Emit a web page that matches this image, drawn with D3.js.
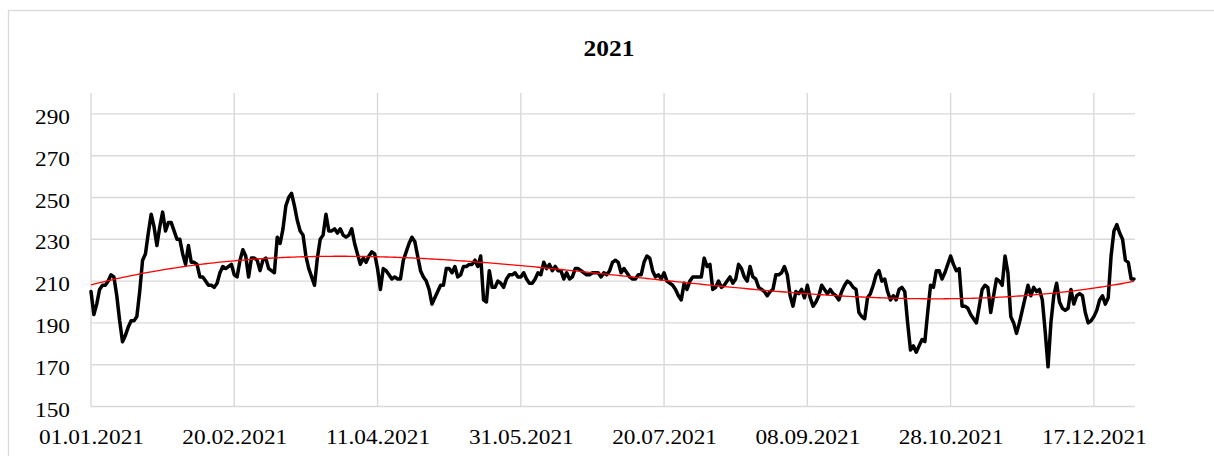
<!DOCTYPE html>
<html>
<head>
<meta charset="utf-8">
<script src="https://cdn.jsdelivr.net/npm/d3@7"></script>
<style>
	body { margin: 0; background: #fff; }
	text { font-family: "Liberation Serif", "Times New Roman", serif; fill: #000; }
</style>
</head>
<body>
<div id="draw"></div>
<script>
// daily values, 01.01.2021 .. 31.12.2021
var values = [
	205,194,199,206,208,208,210,213,212,203,
	191,181,184,188,191,191,193,205,220,223,
	233,242,236,227,236,243,234,238,238,234,
	230,230,223,218,227,219,219,218,212,212,
	210,208,208,207,209,214,217,216,217,218,
	213,212,220,225,222,212,221,221,220,215,
	220,221,216,215,214,231,228,235,246,250,
	252,246,239,234,232,222,216,212,208,221,
	230,232,242,234,234,235,233,235,232,231,
	232,235,228,223,218,221,219,222,224,223,
	216,206,216,215,213,211,212,211,211,220,
	224,228,231,229,222,215,212,210,206,199,
	202,205,208,208,216,216,214,217,212,213,
	217,217,218,218,220,217,222,201,200,215,
	207,207,210,209,207,211,213,213,214,212,
	212,214,211,209,209,211,214,213,219,216,
	218,215,217,215,215,211,214,211,212,216,
	216,215,214,213,213,214,214,214,212,214,
	213,215,219,220,219,214,216,214,212,211,
	211,213,213,219,222,221,215,212,213,211,
	214,210,209,208,206,203,201,209,206,210,
	212,212,212,212,221,217,218,206,207,210,
	207,208,210,212,209,211,218,216,212,210,
	217,212,211,207,206,205,203,205,206,213,
	213,214,217,213,203,198,205,204,206,202,
	208,202,198,200,203,208,206,204,206,204,
	203,201,205,208,210,209,207,206,195,193,
	192,202,204,208,213,215,210,211,205,201,
	203,201,206,207,205,190,177,179,176,179,
	182,181,195,208,207,215,215,211,214,218,
	222,218,215,216,198,198,197,194,192,190,
	198,206,208,207,195,203,211,210,208,222,
	214,193,190,185,190,196,202,208,203,207,
	205,206,201,186,169,190,203,209,200,197,
	196,197,206,199,203,204,203,195,190,191,
	193,196,201,203,199,202,222,234,237,233,
	230,220,219,211,211
];
var yTicks = [150, 170, 190, 210, 230, 250, 270, 290];
var xTickLabels = ["01.01.2021", "20.02.2021", "11.04.2021", "31.05.2021", "20.07.2021", "08.09.2021", "28.10.2021", "17.12.2021"];
var title = "2021";

var width = 1214, height = 456;
var start = new Date(2021, 0, 1);
var parse = d3.timeParse("%d.%m.%Y");
var fmt = d3.timeFormat("%d.%m.%Y");
var sx = 1.06; // text in the picture is a bit wide

var data = values.map(function(v, i){ return { date: d3.timeDay.offset(start, i), day: i, value: v }; });

// cubic trendline (least squares), like the spreadsheet one
function polyFit(pts, order){
	var n = order + 1, A = [], b = [];
	for(var r = 0; r < n; ++r){ A.push(new Array(n).fill(0)); b.push(0); }
	pts.forEach(function(p){
		var t = p[0];
		for(var r = 0; r < n; ++r){
			b[r] += Math.pow(t, r) * p[1];
			for(var c = 0; c < n; ++c) A[r][c] += Math.pow(t, r + c);
		}
	});
	for(var k = 0; k < n; ++k){
		for(var r = k + 1; r < n; ++r){
			var f = A[r][k] / A[k][k];
			for(var c = k; c < n; ++c) A[r][c] -= f * A[k][c];
			b[r] -= f * b[k];
		}
	}
	var coef = new Array(n).fill(0);
	for(var r = n - 1; r >= 0; --r){
		var s = b[r];
		for(var c = r + 1; c < n; ++c) s -= A[r][c] * coef[c];
		coef[r] = s / A[r][r];
	}
	return function(t){
		var s = 0;
		for(var r = 0; r < n; ++r) s += coef[r] * Math.pow(t, r);
		return s;
	};
}
var N = values.length - 1;
var fit = polyFit(data.map(function(d){ return [d.day / N, d.value]; }), 3);
var trend = data.map(function(d){ return { date: d.date, value: fit(d.day / N) }; });

var x = d3.scaleTime()
	.domain([start, d3.timeDay.offset(start, N)])
	.range([91, 1134]);
var y = d3.scaleLinear()
	.domain([150, 300])
	.range([406.5, 93]);

var svg = d3.select("#draw").append("svg")
	.attr("width", width)
	.attr("height", height);

svg.append("rect")
	.attr("x", 8.5).attr("y", 10.5)
	.attr("width", 1220).attr("height", 460)
	.attr("fill", "#fff")
	.attr("stroke", "#d9d9d9")
	.attr("stroke-width", 1.3);

svg.append("text")
	.attr("transform", "translate(609,56) scale(" + sx + ",1)")
	.attr("text-anchor", "middle")
	.style("font-size", "24px")
	.style("font-weight", "bold")
	.text(title);

var xTicks = xTickLabels.map(parse);

// gridlines
svg.append("g")
	.selectAll("line")
	.data(yTicks)
	.enter()
	.append("line")
	.attr("x1", 91).attr("x2", 1135)
	.attr("y1", function(d){ return y(d); })
	.attr("y2", function(d){ return y(d); })
	.attr("stroke", "#d9d9d9")
	.attr("stroke-width", 1.4);

svg.append("g")
	.selectAll("line")
	.data(xTicks)
	.enter()
	.append("line")
	.attr("x1", function(d){ return x(d); })
	.attr("x2", function(d){ return x(d); })
	.attr("y1", y(300)).attr("y2", y(150))
	.attr("stroke", "#d9d9d9")
	.attr("stroke-width", 1.4);

// axes
var yAxis = svg.append("g")
	.attr("transform", "translate(91,0)")
	.call(d3.axisLeft(y).tickValues(yTicks).tickSize(0));
yAxis.select(".domain").remove();
yAxis.selectAll("text")
	.attr("x", null).attr("dy", null)
	.attr("transform", "translate(-21,9.5) scale(" + sx + ",1)")
	.style("font-size", "22px")
	.attr("font-family", null);

var xAxis = svg.append("g")
	.attr("transform", "translate(0,406.5)")
	.call(d3.axisBottom(x).tickValues(xTicks).tickFormat(fmt).tickSize(0));
xAxis.select(".domain").remove();
xAxis.selectAll("text")
	.attr("y", null).attr("dy", null)
	.attr("transform", "translate(0,37) scale(" + sx + ",1)")
	.style("font-size", "22px")
	.attr("font-family", null);

// series
var line = d3.line()
	.x(function(d){ return x(d.date); })
	.y(function(d){ return y(d.value); });

svg.append("path")
	.datum(data)
	.attr("d", line)
	.attr("fill", "none")
	.attr("stroke", "#000")
	.attr("stroke-width", 3.5)
	.attr("stroke-linejoin", "round")
	.attr("stroke-linecap", "round");

svg.append("path")
	.datum(trend)
	.attr("d", line)
	.attr("fill", "none")
	.attr("stroke", "#ff0000")
	.attr("stroke-width", 1.3);
</script>
</body>
</html>
